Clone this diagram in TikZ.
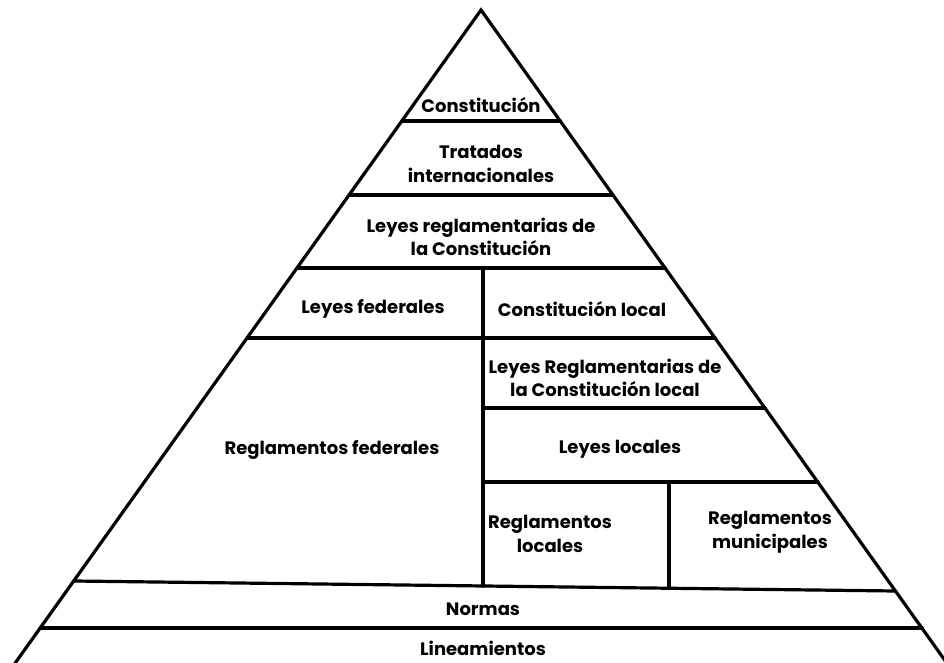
\documentclass[tikz,border=0pt]{standalone}
\usepackage{fontspec}
\setmainfont{Poppins}
\tikzset{
  edge/.style={line width=3.2pt, line cap=round, line join=miter},
  lbl/.style={align=center, inner sep=0pt, font=\fontsize{18}{23.5}\selectfont\bfseries}
}
\begin{document}
\begin{tikzpicture}[x=1pt,y=-1pt]
\useasboundingbox (0,0) rectangle (944,663);
\clip (0,0) rectangle (944,663);
% apex and sides
\coordinate (apex) at (481,10);
\coordinate (bl) at (9.5,671);
\coordinate (br) at (952.5,671);
\draw[edge] (bl) -- (apex) -- (br);
% horizontal bands
\coordinate (a1) at (401.9,121); \coordinate (b1) at (560.3,121);
\coordinate (a2) at (349.1,195); \coordinate (b2) at (613.1,195);
\coordinate (a3) at (297.0,268); \coordinate (b3) at (665.2,268);
\coordinate (a4) at (247.1,338); \coordinate (b4) at (715.2,338);
\coordinate (m5) at (483,408);  \coordinate (b5) at (765.2,408);
\coordinate (m6) at (483,482);  \coordinate (b6) at (818.0,482);
\coordinate (a7) at (73.9,581); \coordinate (b7) at (895.8,591);
\coordinate (m3) at (483,268);  \coordinate (m7) at (483,586);
\coordinate (n6) at (669,482);  \coordinate (n7) at (669,588.3);
\coordinate (a8) at (40.4,628); \coordinate (b8) at (922.3,628);
\draw[edge] (a1) -- (b1);
\draw[edge] (a2) -- (b2);
\draw[edge] (a3) -- (b3);
\draw[edge] (a4) -- (b4);
\draw[edge] (m5) -- (b5);
\draw[edge] (m6) -- (b6);
\draw[edge] (a7) -- (b7);
\draw[edge] (m3) -- (m7);
\draw[edge] (n6) -- (n7);
\draw[edge] (a8) -- (b8);
% labels
\node[lbl] (t1) at (481,105) {Constitución};
\node[lbl] (t2) at (481,164) {Tratados\\internacionales};
\node[lbl] (t3) at (481,237) {Leyes reglamentarias de\\la Constitución};
\node[lbl] (t4) at (373,309) {Leyes federales};
\node[lbl] (t5) at (582,309) {Constitución local};
\node[lbl] (t6) at (605,378) {Leyes Reglamentarias de\\la Constitución local};
\node[lbl] (t7) at (332,450) {Reglamentos federales};
\node[lbl] (t8) at (620,449) {Leyes locales};
\node[lbl] (t9) at (550,534) {Reglamentos\\locales};
\node[lbl] (t10) at (770,532) {Reglamentos\\municipales};
\node[lbl] (t11) at (483,609) {Normas};
\node[lbl] (t12) at (483,648) {Lineamientos};
\end{tikzpicture}
\end{document}
